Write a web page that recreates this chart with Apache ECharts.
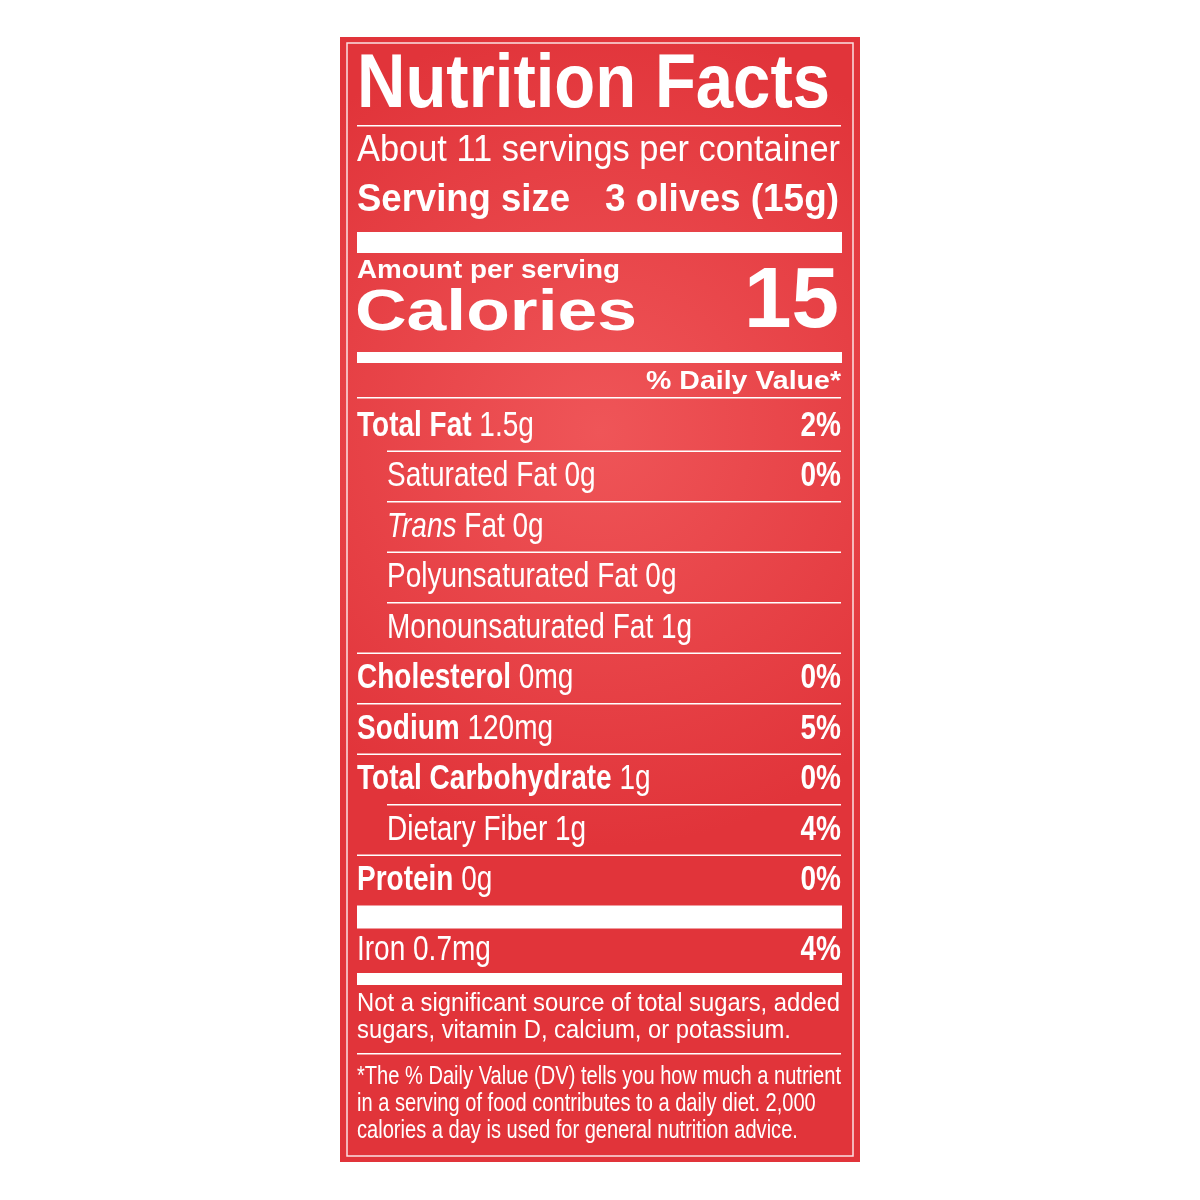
<!DOCTYPE html>
<html lang="en">
<head>
<meta charset="UTF-8">
<title>Nutrition Facts</title>
<script src="https://cdn.jsdelivr.net/npm/echarts@6/dist/echarts.min.js"></script>
<style>html,body{margin:0;background:#fff}</style>
</head>
<body>
<div id="label" style="width:1200px;height:1200px;"></div>
<script type="text/javascript">
// label data
var nutrientNames = ['Total Fat', 'Saturated Fat', 'Trans Fat', 'Polyunsaturated Fat', 'Monounsaturated Fat',
    'Cholesterol', 'Sodium', 'Total Carbohydrate', 'Dietary Fiber', 'Protein'];
var nutrientAmounts = ['1.5g', '0g', '0g', '0g', '1g', '0mg', '120mg', '1g', '1g', '0g'];
var nutrientDV = ['2%', '0%', '', '', '', '0%', '5%', '0%', '4%', '0%'];
var nutrientIndent = [0, 1, 1, 1, 1, 0, 0, 0, 1, 0];
var vitaminNames = ['Iron'];
var vitaminAmounts = ['0.7mg'];
var vitaminDV = ['4%'];
var servings = 'About 11 servings per container';
var servingSize = '3 olives (15g)';
var calories = '15';
var note1 = ['Not a significant source of total sugars, added', 'sugars, vitamin D, calcium, or potassium.'];
var note2 = ['*The % Daily Value (DV) tells you how much a nutrient',
    'in a serving of food contributes to a daily diet. 2,000',
    'calories a day is used for general nutrition advice.'];

var FONT = 'Liberation Sans';
var L = 357, R = 841, IND = 387;
var ctx = document.createElement('canvas').getContext('2d');
function fit(text, weight, size, width) {
    ctx.font = weight + ' ' + size + 'px "' + FONT + '"';
    return width / ctx.measureText(text).width;
}
var els = [];
function txt(text, x, y, size, weight, align, sx, style) {
    els.push({
        type: 'text', x: x, y: y, scaleX: sx || 1,
        style: {text: text, fill: '#fff', fontFamily: FONT, fontSize: size, fontWeight: weight || 'normal',
            fontStyle: style || 'normal', align: align || 'left', verticalAlign: 'middle'}
    });
}
function bar(x1, y1, x2, h) {
    els.push({type: 'rect', shape: {x: x1, y: y1, width: x2 - x1, height: h}, style: {fill: '#fff'}});
}

// background
els.push({type: 'rect', shape: {x: 340, y: 37, width: 520, height: 1125},
    style: {fill: new echarts.graphic.RadialGradient(0.5, 0.35, 0.8, [
        {offset: 0, color: '#ef5558'}, {offset: 1, color: '#e1343a'}])}});
els.push({type: 'rect', shape: {x: 347, y: 43, width: 506, height: 1113},
    style: {fill: 'none', stroke: 'rgba(255,255,255,0.85)', lineWidth: 1.5}});

// header
txt('Nutrition Facts', L, 86, 76, 'bold', 'left', fit('Nutrition Facts', 'bold', 76, 473));
bar(L, 125, R, 1.5);
txt(servings, L, 151, 37, 'normal', 'left', fit(servings, 'normal', 37, 483));
var sc = 0.8;
txt('Serving size', L, 201, 38, 'bold', 'left', fit('Serving size', 'bold', 38, 213));
txt(servingSize, R - 2, 201, 38, 'bold', 'right', fit(servingSize, 'bold', 38, 234));
bar(L, 232, R + 1, 21);
txt('Amount per serving', L, 271, 26, 'bold', 'left', fit('Amount per serving', 'bold', 26, 263));
txt('Calories', L - 2, 314, 58, 'bold', 'left', fit('Calories', 'bold', 58, 282));
txt(calories, R - 2, 303, 86, 'bold', 'right', fit(calories, 'bold', 86, 95));
bar(L, 352, R + 1, 11);
txt('% Daily Value*', R, 382, 26, 'bold', 'right', fit('% Daily Value*', 'bold', 26, 195));
bar(L, 397, R, 1.5);

// nutrient rows
var pitch = 50.5, y0 = 426;
nutrientNames.forEach(function (name, i) {
    var y = y0 + i * pitch;
    var x = nutrientIndent[i] ? IND : L;
    if (i > 0) bar(nutrientIndent[i] ? IND : L, y - 26, R, 1.5);
    var rich = nutrientIndent[i] ? 'normal' : 'bold';
    if (name === 'Trans Fat') {
        els.push({type: 'text', x: x, y: y, scaleX: sc, style: {
            rich: {i: {fontStyle: 'italic', fill: '#fff', fontSize: 35, fontFamily: FONT},
                   n: {fill: '#fff', fontSize: 35, fontFamily: FONT}},
            text: '{i|Trans}{n| Fat ' + nutrientAmounts[i] + '}', verticalAlign: 'middle'}});
    } else {
        els.push({type: 'text', x: x, y: y, scaleX: sc, style: {
            rich: {b: {fontWeight: rich, fill: '#fff', fontSize: 35, fontFamily: FONT},
                   n: {fill: '#fff', fontSize: 35, fontFamily: FONT}},
            text: '{b|' + name + '}{n| ' + nutrientAmounts[i] + '}', verticalAlign: 'middle'}});
    }
    if (nutrientDV[i]) txt(nutrientDV[i], R, y, 35, 'bold', 'right', sc);
});
var yEnd = y0 + (nutrientNames.length - 1) * pitch;
bar(L, yEnd + 25, R + 1, 23);
vitaminNames.forEach(function (name, i) {
    var y = yEnd + 70 + i * pitch;
    txt(name + ' ' + vitaminAmounts[i], L, y, 35, 'normal', 'left', sc);
    txt(vitaminDV[i], R, y, 35, 'bold', 'right', sc);
});
bar(L, 973, R + 1, 12);

// footnotes
note1.forEach(function (t, i) {
    txt(t, L, 1004 + i * 27, 25, 'normal', 'left', fit(note1[0], 'normal', 25, 483));
});
bar(L, 1053, R, 1.5);
note2.forEach(function (t, i) {
    txt(t, L, 1077 + i * 27, 25, 'normal', 'left', fit(note2[0], 'normal', 25, 484));
});

var myChart = echarts.init(document.getElementById('label'));
myChart.setOption({backgroundColor: '#fff', graphic: els});
</script>
</body>
</html>
